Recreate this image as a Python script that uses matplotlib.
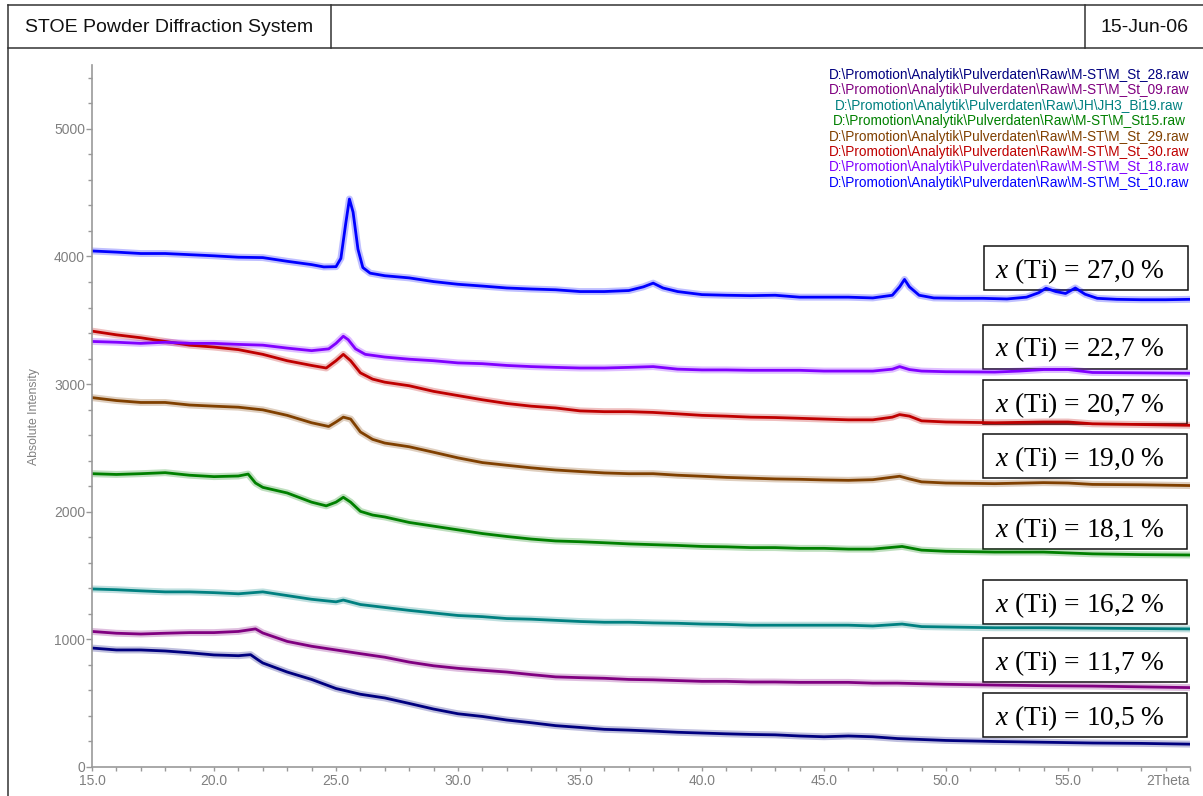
import matplotlib
matplotlib.use("Agg")
import matplotlib.pyplot as plt
from matplotlib.ticker import MultipleLocator, FixedLocator, FixedFormatter
from matplotlib.patches import Rectangle
from matplotlib.lines import Line2D

plt.rcParams['font.family'] = ['Liberation Sans', 'DejaVu Sans']
plt.rcParams['mathtext.fontset'] = 'custom'
plt.rcParams['mathtext.rm'] = 'Liberation Serif'
plt.rcParams['mathtext.it'] = 'Liberation Serif:italic'

# ---------------- data (2Theta in degrees, absolute intensity) ----------------
tt_st28 = [15, 16, 17, 18, 19, 20, 21, 21.5, 21.8, 22, 23, 24, 25, 26, 27, 28, 29, 30,
           31, 32, 33, 34, 35, 36, 37, 38, 39, 40, 41, 42, 43, 44, 45, 46, 47, 48,
           50, 52, 54, 56, 58, 60]
I_st28 = [932, 917, 917, 909, 895, 878, 872, 880, 840, 815, 744, 686, 615, 570, 541, 498, 454, 417,
          396, 368, 347, 324, 310, 295, 289, 281, 272, 266, 260, 255, 252, 243, 237, 243, 237, 223,
          208, 200, 194, 188, 185, 179]

tt_st09 = [15, 16, 17, 18, 19, 20, 21, 21.7, 22, 23, 24, 25, 26, 27, 28, 29, 30,
           31, 32, 33, 34, 35, 36, 37, 38, 39, 40, 41, 42, 43, 44, 45, 46, 47, 48,
           50, 52, 54, 56, 58, 60]
I_st09 = [1062, 1048, 1042, 1048, 1053, 1053, 1062, 1082, 1050, 984, 946, 917, 888, 860, 822, 793, 773,
          758, 744, 724, 706, 700, 695, 686, 683, 677, 671, 671, 666, 666, 663, 663, 663, 657, 657,
          648, 642, 637, 634, 628, 622]

tt_bi19 = [15, 16, 17, 18, 19, 20, 21, 22, 23, 24, 25, 25.3, 26, 27, 28, 29, 30,
           31, 32, 33, 34, 35, 36, 37, 38, 39, 40, 41, 42, 43, 44, 45, 46, 47, 48.2,
           49, 50, 52, 54, 56, 58, 60]
I_bi19 = [1395, 1389, 1380, 1372, 1372, 1366, 1357, 1372, 1343, 1314, 1294, 1308, 1273, 1250, 1227, 1207, 1187,
          1178, 1163, 1158, 1149, 1140, 1134, 1134, 1129, 1126, 1120, 1117, 1111, 1111, 1111, 1111, 1111, 1105, 1120,
          1100, 1097, 1091, 1091, 1088, 1085, 1082]

tt_st15 = [15, 16, 17, 18, 19, 20, 21, 21.4, 21.7, 22, 23, 24, 24.6, 25.0, 25.3, 25.6, 26, 26.5,
           27, 28, 29, 30, 31, 32, 33, 34, 35, 36, 37, 38, 39, 40, 41, 42, 43, 44, 45, 46, 47,
           48.2, 49, 50, 52, 54, 56, 58, 60]
I_st15 = [2298, 2292, 2298, 2306, 2286, 2275, 2280, 2295, 2225, 2191, 2147, 2075, 2046, 2075, 2113, 2075, 2003, 1974,
          1959, 1916, 1887, 1858, 1829, 1806, 1786, 1771, 1765, 1757, 1748, 1742, 1736, 1728, 1725, 1719, 1719, 1713, 1713, 1707, 1707,
          1728, 1699, 1690, 1684, 1684, 1670, 1664, 1661]

tt_st29 = [15, 16, 17, 18, 19, 20, 21, 22, 23, 24, 24.7, 25.0, 25.3, 25.6, 26.0, 26.5,
           27, 28, 29, 30, 31, 32, 33, 34, 35, 36, 37, 38, 39, 40, 41, 42, 43, 44, 45, 46, 47,
           48.1, 48.5, 49, 50, 52, 54, 55, 56, 58, 60]
I_st29 = [2894, 2871, 2856, 2856, 2836, 2827, 2819, 2798, 2755, 2697, 2668, 2703, 2741, 2726, 2625, 2567,
          2538, 2509, 2466, 2422, 2385, 2364, 2344, 2327, 2315, 2304, 2298, 2298, 2286, 2278, 2269, 2263, 2257, 2254, 2249, 2246, 2251,
          2278, 2257, 2234, 2225, 2220, 2228, 2225, 2214, 2211, 2205]

tt_st30 = [15, 16, 17, 18, 19, 20, 21, 22, 23, 24, 24.6, 25.0, 25.3, 25.6, 26.0, 26.5,
           27, 28, 29, 30, 31, 32, 33, 34, 35, 36, 37, 38, 39, 40, 41, 42, 43, 44, 45, 46, 47,
           47.8, 48.1, 48.5, 49, 50, 52, 54, 55, 56, 58, 60]
I_st30 = [3415, 3386, 3363, 3334, 3305, 3290, 3270, 3233, 3183, 3146, 3126, 3183, 3233, 3183, 3088, 3039,
          3015, 2987, 2943, 2910, 2877, 2848, 2827, 2813, 2790, 2784, 2784, 2778, 2767, 2755, 2749, 2741, 2738, 2732, 2726, 2720, 2720,
          2741, 2761, 2749, 2712, 2703, 2697, 2703, 2703, 2689, 2683, 2677]

tt_st18 = [15, 16, 17, 18, 19, 20, 21, 22, 23, 24, 24.7, 25.0, 25.3, 25.5, 25.8, 26.2,
           27, 28, 29, 30, 31, 32, 33, 34, 35, 36, 37, 38, 39, 40, 41, 42, 43, 44, 45, 46, 47,
           47.8, 48.1, 48.5, 49, 50, 52, 53, 54, 55, 56, 58, 60]
I_st18 = [3334, 3328, 3319, 3328, 3319, 3319, 3311, 3305, 3282, 3262, 3276, 3319, 3375, 3348, 3276, 3233,
          3212, 3195, 3183, 3166, 3160, 3146, 3137, 3131, 3126, 3126, 3131, 3137, 3117, 3111, 3111, 3108, 3108, 3108, 3102, 3102, 3102,
          3117, 3137, 3114, 3102, 3097, 3094, 3102, 3114, 3114, 3091, 3088, 3085]

tt_st10 = [15, 16, 17, 18, 19, 20, 21, 22, 23, 24, 24.5, 25.0, 25.2, 25.4, 25.55, 25.7, 25.9, 26.1, 26.4,
           27, 28, 29, 30, 31, 32, 33, 34, 35, 36, 37, 37.6, 38.0, 38.4, 39, 40, 41, 42, 43, 44, 45, 46, 47,
           47.8, 48.1, 48.3, 48.5, 48.9, 49.5, 50.5, 51.5, 52.5, 53.3, 53.8, 54.1, 54.5, 54.9, 55.3, 55.7, 56.2,
           57, 58, 59, 60]
I_st10 = [4043, 4034, 4023, 4023, 4014, 4005, 3994, 3991, 3962, 3936, 3918, 3920, 3985, 4260, 4450, 4347, 4057, 3913, 3869,
          3849, 3832, 3803, 3782, 3768, 3753, 3745, 3739, 3725, 3725, 3733, 3762, 3791, 3753, 3725, 3701, 3696, 3693, 3696, 3681, 3681, 3681, 3675,
          3696, 3762, 3820, 3762, 3696, 3675, 3672, 3672, 3667, 3681, 3716, 3751, 3725, 3710, 3753, 3704, 3672,
          3664, 3661, 3661, 3664]

files = [r"D:\Promotion\Analytik\Pulverdaten\Raw\M-ST\M_St_28.raw",
         r"D:\Promotion\Analytik\Pulverdaten\Raw\M-ST\M_St_09.raw",
         r"D:\Promotion\Analytik\Pulverdaten\Raw\JH\JH3_Bi19.raw",
         r"D:\Promotion\Analytik\Pulverdaten\Raw\M-ST\M_St15.raw",
         r"D:\Promotion\Analytik\Pulverdaten\Raw\M-ST\M_St_29.raw",
         r"D:\Promotion\Analytik\Pulverdaten\Raw\M-ST\M_St_30.raw",
         r"D:\Promotion\Analytik\Pulverdaten\Raw\M-ST\M_St_18.raw",
         r"D:\Promotion\Analytik\Pulverdaten\Raw\M-ST\M_St_10.raw"]
colors = ['#00007F', '#800080', '#008080', '#008000', '#804000', '#BF0000', '#8000FF', '#0000FF']
x_ti = ['10,5', '11,7', '16,2', '18,1', '19,0', '20,7', '22,7', '27,0']

x_major = [15, 20, 25, 30, 35, 40, 45, 50, 55, 60]
x_labels = ['15.0', '20.0', '25.0', '30.0', '35.0', '40.0', '45.0', '50.0', '55.0', '2Theta']
y_major = [0, 1000, 2000, 3000, 4000, 5000]

series = [(tt_st28, I_st28), (tt_st09, I_st09), (tt_bi19, I_bi19), (tt_st15, I_st15),
          (tt_st29, I_st29), (tt_st30, I_st30), (tt_st18, I_st18), (tt_st10, I_st10)]

# ---------------- figure ----------------
W, H = 1203, 796
fig = plt.figure(figsize=(W / 100, H / 100), dpi=100)
fig.patch.set_facecolor('white')


def fx(x):
    return x / W


def fy(y):
    return 1 - y / H


ax = fig.add_axes([fx(92), fy(767), (1190 - 92) / W, (767 - 65) / H])

for (tt, inten), c in zip(series, colors):
    ax.plot(tt, inten, color=c, lw=5, alpha=0.25, zorder=2, solid_joinstyle='round')
    ax.plot(tt, inten, color=c, lw=2.0, zorder=2.1, solid_joinstyle='round')

ax.set_xlim(15, 60)
ax.set_ylim(0, 5500)
for s in ['top', 'right']:
    ax.spines[s].set_visible(False)
for s in ['left', 'bottom']:
    ax.spines[s].set_color('#999999')
    ax.spines[s].set_linewidth(1.2)

ax.xaxis.set_major_locator(FixedLocator(x_major))
ax.xaxis.set_major_formatter(FixedFormatter(x_labels))
ax.xaxis.set_minor_locator(MultipleLocator(1))
ax.yaxis.set_major_locator(FixedLocator(y_major))
ax.yaxis.set_minor_locator(MultipleLocator(200))
ax.tick_params(axis='x', which='both', direction='out', length=3.2, width=1, color='#999999',
               labelsize=10, labelcolor='#808080', pad=2)
ax.tick_params(axis='y', which='major', direction='out', length=4, width=1, color='#999999',
               labelsize=10, labelcolor='#808080', pad=1)
ax.tick_params(axis='y', which='minor', direction='out', length=2.7, width=1, color='#999999')
fig.canvas.draw()
ax.get_xticklabels()[-1].set_horizontalalignment('right')

# label boxes
boxes_y = [(693, 737), (637.5, 682), (580, 624), (505, 549), (434, 478), (379.5, 424), (324.5, 368.5), (246, 290)]
for (y0, y1), lab in zip(boxes_y, x_ti):
    x0 = 983 if y0 > 250 else 984
    r = Rectangle((fx(x0), fy(y1)), (204) / W, (y1 - y0) / H, transform=fig.transFigure,
                  facecolor='white', edgecolor='#111111', lw=1.1, zorder=1, clip_on=False)
    ax.add_patch(r)
    ax.text(fx(995), fy(y1 - 12), r'$x$ (Ti) = ' + lab + ' %', transform=fig.transFigure,
            fontfamily='Liberation Serif', fontsize=19.7, color='black', ha='left', va='baseline',
            zorder=3, clip_on=False)

# legend (file names)
for i, (f, c) in enumerate(zip(files, colors)):
    fig.text(fx(1009), fy(75 + i * 15.4), f, color=c, fontsize=9.8, ha='center', va='center')

# y axis label
fig.text(fx(34), fy(417), 'Absolute Intensity', rotation=90, fontsize=8.8, color='#808080',
         ha='center', va='center')

# header frame
lc = '#333333'
lw = 1.1
fig.add_artist(Line2D([fx(8), fx(1203)], [fy(5), fy(5)], color=lc, lw=lw, transform=fig.transFigure))
fig.add_artist(Line2D([fx(8), fx(1203)], [fy(48), fy(48)], color=lc, lw=lw, transform=fig.transFigure))
fig.add_artist(Line2D([fx(8), fx(8)], [fy(5), fy(796)], color=lc, lw=lw, transform=fig.transFigure))
fig.add_artist(Line2D([fx(331), fx(331)], [fy(5), fy(48)], color=lc, lw=lw, transform=fig.transFigure))
fig.add_artist(Line2D([fx(1085), fx(1085)], [fy(5), fy(48)], color=lc, lw=lw, transform=fig.transFigure))
fig.text(fx(25), fy(28), 'STOE Powder Diffraction System', fontsize=14, color='#111111', ha='left', va='center')
fig.text(fx(1188), fy(28), '15-Jun-06', fontsize=14, color='#111111', ha='right', va='center')

fig.savefig('out.png', dpi=100, facecolor='white')
